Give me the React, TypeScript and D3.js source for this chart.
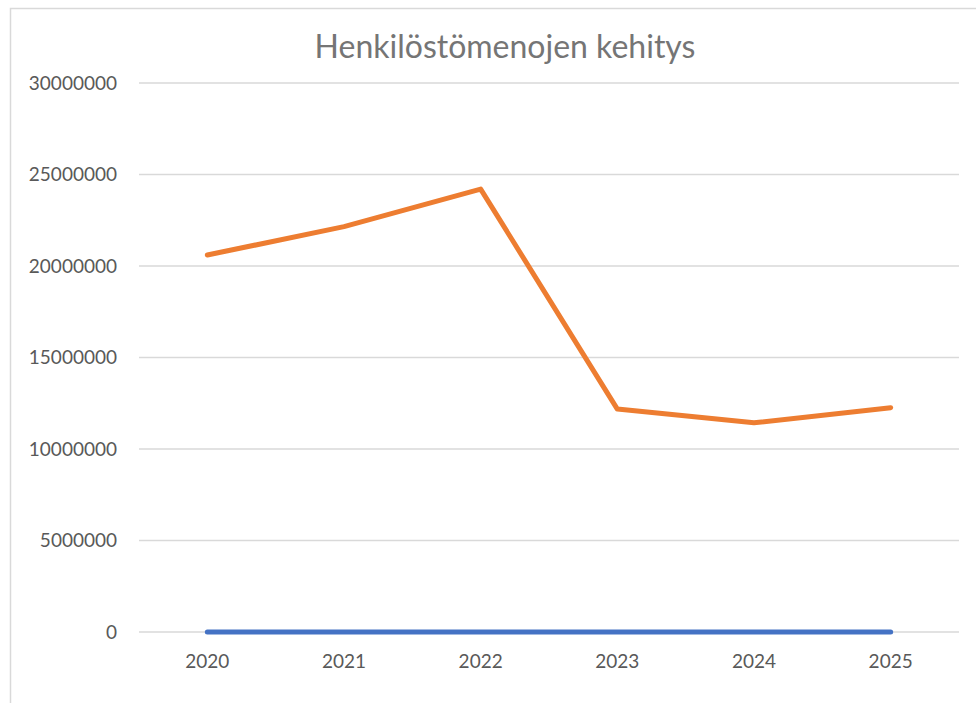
import React from 'react';
import * as d3 from 'd3';

const years = ['2020', '2021', '2022', '2023', '2024', '2025'];
const seriesBlue = [0, 0, 0, 0, 0, 0];
const seriesOrange = [20600000, 22150000, 24200000, 12180000, 11430000, 12260000];
const yTicks = [0, 5000000, 10000000, 15000000, 20000000, 25000000, 30000000];

const W = 976;
const H = 703;
const left = 139;
const right = 959;
const top = 83;
const bottom = 632;

const App = () => {
  const x = d3.scaleBand().domain(years).range([left, right]);
  const y = d3.scaleLinear().domain([0, 30000000]).range([bottom, top]);
  const cx = (d: string) => (x(d) as number) + x.bandwidth() / 2;

  const line = d3
    .line<number>()
    .x((d, i) => cx(years[i]))
    .y(d => y(d));

  const font = 'Lato, "Open Sans", sans-serif';

  return (
    <svg width={W} height={H} style={{ position: 'absolute', left: 0, top: 0, background: '#fff' }}>
      <rect x={10.5} y={8.5} width={1000} height={1000} fill="#fff" stroke="#d9d9d9" strokeWidth={1.5} />
      <text x={505} y={58} textAnchor="middle" fontFamily={font} fontSize={32} fill="#757575">
        Henkilöstömenojen kehitys
      </text>
      {yTicks.map(t => (
        <g key={t}>
          <line x1={left} x2={right} y1={y(t)} y2={y(t)} stroke="#d9d9d9" strokeWidth={1.5} />
          <text
            x={117}
            y={y(t)}
            dy="0.35em"
            textAnchor="end"
            fontFamily={font}
            fontSize={19}
            fill="#595959"
          >
            {t}
          </text>
        </g>
      ))}
      {years.map(yr => (
        <text key={yr} x={cx(yr)} y={668} textAnchor="middle" fontFamily={font} fontSize={19} fill="#595959">
          {yr}
        </text>
      ))}
      <path d={line(seriesBlue) || ''} fill="none" stroke="#4472c4" strokeWidth={5} strokeLinecap="round" strokeLinejoin="round" />
      <path d={line(seriesOrange) || ''} fill="none" stroke="#ed7d31" strokeWidth={5} strokeLinecap="round" strokeLinejoin="round" />
    </svg>
  );
};

export default App;
